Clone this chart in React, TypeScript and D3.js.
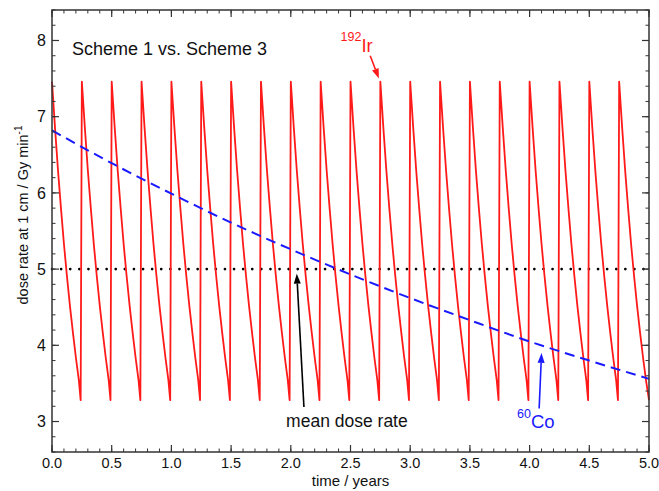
import * as d3 from 'd3';

// red 192Ir sawtooth: one source exchange every quarter year
const irPeakTimes = d3.range(0, 20).map(i => i * 0.25);
const irPeriod = 0.25;
// dose rate along one decay cycle (fraction of cycle -> value)
const irCycleFrac = [0, 0.1, 0.2, 0.3, 0.4, 0.5, 0.6, 0.7, 0.8, 0.9, 0.96];
const irCycleVals = [7.46, 6.86, 6.3, 5.8, 5.33, 4.91, 4.52, 4.17, 3.84, 3.54, 3.28];

// blue 60Co dashed curve
const coTimes = [0, 0.5, 1, 1.5, 2, 2.5, 3, 3.5, 4, 4.5, 5];
const coVals = [6.82, 6.39, 5.99, 5.61, 5.26, 4.93, 4.62, 4.33, 4.05, 3.8, 3.56];

const meanDose = 5.0;

const xTicks = [0, 0.5, 1, 1.5, 2, 2.5, 3, 3.5, 4, 4.5, 5];
const yTicks = [3, 4, 5, 6, 7, 8];

const W = 659;
const H = 491;
const margin = { top: 10, right: 10, bottom: 39, left: 52 };
const font = '"Liberation Sans", Arial, Helvetica, sans-serif';

export default function App() {
  const x = d3.scaleLinear().domain([0, 5]).range([margin.left, W - margin.right]);
  const y = d3.scaleLinear().domain([2.6, 8.4]).range([H - margin.bottom, margin.top]);
  const [x0, x1] = x.range();
  const [y0, y1] = y.range();

  const irPts: [number, number][] = [];
  irPeakTimes.forEach(t0 => {
    irCycleFrac.forEach((f, i) => irPts.push([t0 + f * irPeriod, irCycleVals[i]]));
  });
  // last cycle ends on the right edge
  irPts[irPts.length - 1][0] = 5;

  const line = d3.line<[number, number]>().x(d => x(d[0])).y(d => y(d[1]));
  const coLine = d3.line<number>().x((d, i) => x(coTimes[i])).y(d => y(d)).curve(d3.curveMonotoneX);

  const xMinor = d3.range(0, 5.0001, 0.1);
  const yMinor = d3.range(2.6, 8.4001, 0.2);

  const arrow = (xa: number, ya: number, xb: number, yb: number, color: string) => {
    const ax = x(xa), ay = y(ya), bx = x(xb), by = y(yb);
    const ang = Math.atan2(by - ay, bx - ax);
    const len = 10, wid = 3.5;
    const hx = bx - len * Math.cos(ang), hy = by - len * Math.sin(ang);
    const p1 = [hx + wid * Math.sin(ang), hy - wid * Math.cos(ang)];
    const p2 = [hx - wid * Math.sin(ang), hy + wid * Math.cos(ang)];
    return (
      <g>
        <line x1={ax} y1={ay} x2={hx} y2={hy} stroke={color} strokeWidth={1.6} />
        <polygon points={`${bx},${by} ${p1[0]},${p1[1]} ${p2[0]},${p2[1]}`} fill={color} />
      </g>
    );
  };

  return (
    <>
      <style>{`body{margin:0}`}</style>
      <svg width={W} height={H} style={{ display: 'block', fontFamily: font }}>
        <rect width={W} height={H} fill="#fff" />

        <line x1={x0} x2={x1} y1={y(meanDose)} y2={y(meanDose)} stroke="#000"
          strokeWidth={2.6} strokeDasharray="0.1,9" strokeLinecap="round" />
        <path d={line(irPts) ?? ''} fill="none" stroke="#ff1a1a" strokeWidth={1.8} strokeLinejoin="round" />
        <path d={coLine(coVals) ?? ''} fill="none" stroke="#1a1aff" strokeWidth={2}
          strokeDasharray="10,6" />

        {/* minor ticks */}
        {xMinor.map((t, i) => (
          <g key={'xm' + i} stroke="#333" strokeWidth={1}>
            <line x1={x(t)} x2={x(t)} y1={y0} y2={y0 - 3.5} />
            <line x1={x(t)} x2={x(t)} y1={y1} y2={y1 + 3.5} />
          </g>
        ))}
        {yMinor.map((v, i) => (
          <g key={'ym' + i} stroke="#333" strokeWidth={1}>
            <line x1={x0} x2={x0 + 3.5} y1={y(v)} y2={y(v)} />
            <line x1={x1} x2={x1 - 3.5} y1={y(v)} y2={y(v)} />
          </g>
        ))}
        {xTicks.map((t, i) => (
          <g key={'xt' + i}>
            <line x1={x(t)} x2={x(t)} y1={y0} y2={y0 - 7} stroke="#333" strokeWidth={1.2} />
            <line x1={x(t)} x2={x(t)} y1={y1} y2={y1 + 7} stroke="#333" strokeWidth={1.2} />
            <text x={x(t)} y={468} textAnchor="middle" fontSize={14.5} fill="#111">{t.toFixed(1)}</text>
          </g>
        ))}
        {yTicks.map((v, i) => (
          <g key={'yt' + i}>
            <line x1={x0} x2={x0 + 7} y1={y(v)} y2={y(v)} stroke="#333" strokeWidth={1.2} />
            <line x1={x1} x2={x1 - 7} y1={y(v)} y2={y(v)} stroke="#333" strokeWidth={1.2} />
            <text x={46} y={y(v)} dy="0.36em" textAnchor="end" fontSize={16} fill="#111">{v}</text>
          </g>
        ))}
        <rect x={x0} y={y1} width={x1 - x0} height={y0 - y1} fill="none" stroke="#333" strokeWidth={1.5} />

        <text x={(x0 + x1) / 2} y={486} textAnchor="middle" fontSize={15} fill="#111">time / years</text>
        <text transform={`translate(28,215) rotate(-90)`} textAnchor="middle" fontSize={14.5} fill="#111">
          dose rate at 1 cm / Gy min<tspan dy={-6} fontSize={10}>-1</tspan>
        </text>

        <text x={72} y={55} fontSize={18} fill="#111">Scheme 1 vs. Scheme 3</text>

        {/* 192Ir label */}
        <text x={x(2.66) - 29} y={52} fill="#ff1a1a" fontSize={18.5}>
          <tspan fontSize={12.5} dy={-11}>192</tspan><tspan dy={11}>Ir</tspan>
        </text>
        {arrow(2.665, 7.8, 2.738, 7.5, '#ff1a1a')}

        {/* mean dose rate */}
        {arrow(2.11, 3.19, 2.05, 4.94, '#000')}
        <text x={x(2.47)} y={427} textAnchor="middle" fontSize={17.5} fill="#111">mean dose rate</text>

        {/* 60Co label */}
        {arrow(4.08, 3.17, 4.1, 3.9, '#1a1aff')}
        <text x={517} y={428} fill="#1a1aff" fontSize={18.5}>
          <tspan fontSize={12.5} dy={-10}>60</tspan><tspan dy={10}>Co</tspan>
        </text>
      </svg>
    </>
  );
}
